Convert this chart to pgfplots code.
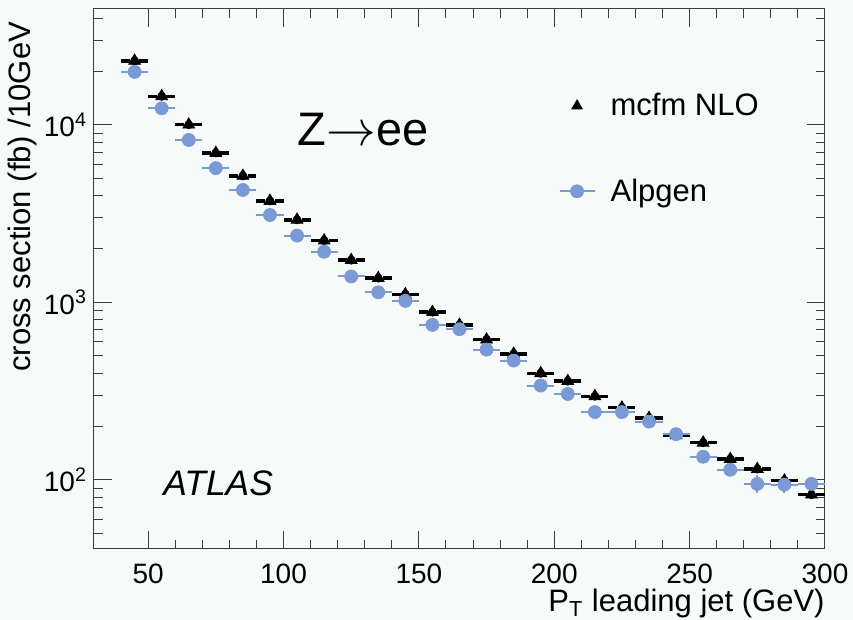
\documentclass[border=0pt]{standalone}
\usepackage{fontspec}
\setmainfont{Liberation Sans}
\usepackage{pgfplots}
\pgfplotsset{compat=1.18}
\usepackage{pgfplotstable}
\definecolor{bgcol}{RGB}{246,250,248}
\definecolor{alpblue}{RGB}{122,154,214}
\definecolor{framecol}{RGB}{60,60,60}
\newcommand{\tickfont}{\fontsize{14}{16}\selectfont}
\newcommand{\labfont}{\fontsize{15.5}{18}\selectfont}
\newcommand{\zfont}{\fontsize{23.5}{27}\selectfont}
\newcommand{\atlasfont}{\fontsize{17.7}{20}\selectfont\itshape}

\pgfplotstableread{
x y ex gx
45 22950 5 1.7
55 14500 5 1.7
65 10030 5 1.7
75 6950 5 1.7
85 5160 5 1.7
95 3730 5 1.7
105 2920 5 1.7
115 2230 5 1.7
125 1730 5 1.7
135 1370 5 1.7
145 1110 5 1.7
155 881 5 1.7
165 747 5 1.7
175 617 5 1.7
185 513 5 1.7
195 399 5 1.7
205 360 5 1.7
215 296 5 1.7
225 255 5 1.7
235 223 5 1.7
245 178 5 1.7
255 162 5 1.7
265 131 5 1.7
275 115 5 1.7
285 99 5 1.7
295 82.6 5 1.7
}\mcfm

\pgfplotstableread{
x y ex ey
45 19900 5 300
55 12400 5 200
65 8230 5 150
75 5710 5 110
85 4300 5 90
95 3110 5 70
105 2380 5 55
115 1930 5 45
125 1400 5 35
135 1140 5 30
145 1020 5 28
155 747 5 22
165 706 5 22
175 542 5 18
185 470 5 16
195 340 5 13
205 305 5 12
215 241 5 11
225 241 5 11
235 213 5 10
245 181 5 10
255 135 5 9
265 114 5 9
275 94.9 5 11
285 94 5 10
295 95 5 9
}\alpgen

\begin{document}
\begin{tikzpicture}
\useasboundingbox (-47pt,-35.5pt) rectangle (379.5pt,274.5pt);
\fill[bgcol] (-47pt,-35.5pt) rectangle (379.5pt,274.5pt);
\begin{axis}[
  scale only axis,
  width=365.5pt, height=270pt,
  ymode=log,
  xmin=30, xmax=300, ymin=40.8, ymax=45000,
  axis line style={line width=0.5pt, draw=framecol},
  tick style={line width=0.5pt, draw=framecol},
  tick align=inside,
  major tick length=9pt, minor tick length=4.5pt,
  xtick={50,100,150,200,250,300},
  minor x tick num=4,
  ytick={100,1000,10000},
  yticklabels={10\textsuperscript{2},10\textsuperscript{3},10\textsuperscript{4}},
  minor ytick={50,60,70,80,90,200,300,400,500,600,700,800,900,2000,3000,4000,5000,6000,7000,8000,9000,20000,30000,40000},
  /pgf/number format/assume math mode=true,
  ticklabel style={font=\tickfont},
  xticklabel style={yshift=-4pt},
  xlabel={P\textsubscript{T} leading jet (GeV)},
  ylabel={cross section (fb) /10GeV},
  label style={font=\labfont},
  xlabel style={at={(axis description cs:1,-0.1)}, anchor=east, inner sep=0pt},
  ylabel style={at={(axis description cs:-0.0985,0.989)}, anchor=east},
  legend style={draw=none, fill=none, at={(axis description cs:0.635,0.856)}, anchor=north west, font=\labfont, row sep=24pt, column sep=4.5pt, inner sep=0pt, nodes={inner sep=3pt}},
  legend cell align=left,
  clip=false,
]
% black bin-width bars
\addplot[black, only marks, mark=none, forget plot,
  error bars/.cd, x dir=both, x explicit, error mark=none,
  error bar style={line width=1.7pt, black}]
  table[x=x, y=y, x error=ex] {\mcfm};
% gap around the triangle + triangle
\addplot[black, only marks, mark=triangle*, mark size=3.4pt,
  legend image code/.code={\path[draw=none, fill=none] (0pt,0pt) -- (17.5pt,0pt);
     \fill[black, draw=none] (8.75pt,3.4pt) -- (5.8pt,-1.7pt) -- (11.7pt,-1.7pt) -- cycle;},
  error bars/.cd, x dir=both, x explicit, error mark=none,
  error bar style={line width=2.7pt, bgcol}]
  table[x=x, y=y, x error=gx] {\mcfm};
\addlegendentry{mcfm NLO}
\addplot[alpblue, only marks, mark=*, mark size=3.25pt, mark options={fill=alpblue, draw=alpblue},
  legend image code/.code={\draw[alpblue, line width=1pt] (0pt,0pt) -- (17.5pt,0pt);
     \fill[alpblue] (8.75pt,0pt) circle (3.25pt);},
  error bars/.cd, x dir=both, x explicit, y dir=both, y explicit, error mark=none,
  error bar style={line width=1pt, alpblue}]
  table[x=x, y=y, x error=ex, y error=ey] {\alpgen};
\addlegendentry{Alpgen}
\node[anchor=west, inner sep=0pt, font=\zfont] at (axis description cs:0.278,0.776) {Z{$\rightarrow$}ee};
\node[anchor=west, inner sep=0pt, font=\atlasfont] at (axis description cs:0.0944,0.122) {ATLAS};
\end{axis}
\end{tikzpicture}
\end{document}
